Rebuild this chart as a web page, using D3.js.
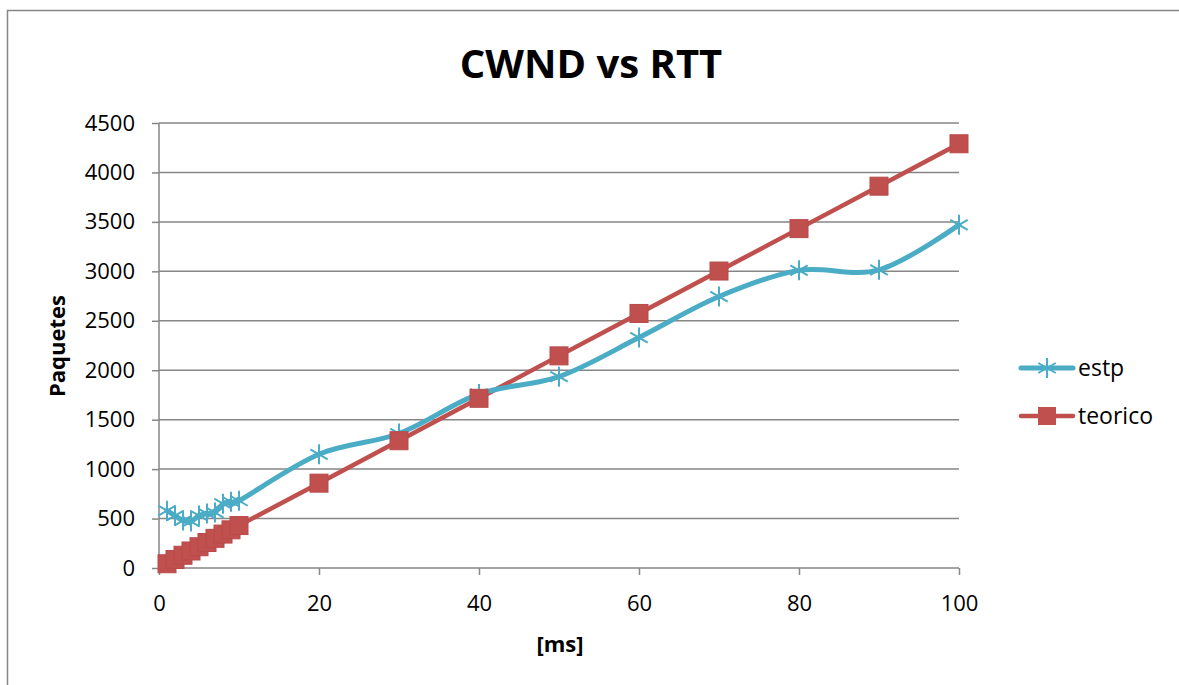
<!DOCTYPE html>
<html>
<head>
<meta charset="utf-8">
<script src="https://cdn.jsdelivr.net/npm/d3@7"></script>
<style>
  body { margin: 0; background: #fff; }
  text { font-family: "Open Sans", "Noto Sans", sans-serif; fill: #000; }
</style>
</head>
<body>
<svg width="1179" height="685"></svg>
<script>
// data
var rtt = [1, 2, 3, 4, 5, 6, 7, 8, 9, 10, 20, 30, 40, 50, 60, 70, 80, 90, 100];
var estp = [580, 530, 480, 470, 530, 550, 560, 650, 670, 680, 1150, 1360, 1760, 1935, 2330, 2745, 3010, 3015, 3470];
var teorico = [43, 86, 129, 172, 215, 258, 300, 343, 386, 429, 858, 1287, 1716, 2145, 2574, 3003, 3432, 3861, 4290];
var xTicks = [0, 20, 40, 60, 80, 100];
var yTicks = [0, 500, 1000, 1500, 2000, 2500, 3000, 3500, 4000, 4500];

var blue = "#4BACC6", red = "#C0504D", grey = "#868686";

var svg = d3.select("svg");

// outer chart border (right and bottom edges run off the page)
svg.append("rect")
  .attr("x", 7.5).attr("y", 10.5)
  .attr("width", 1200).attr("height", 700)
  .attr("fill", "none").attr("stroke", grey).attr("stroke-width", 1.5);

var x = d3.scaleLinear().domain([0, 100]).range([159, 959]);
var y = d3.scaleLinear().domain([0, 4500]).range([568, 123]);

// gridlines
svg.append("g").selectAll("line").data(yTicks.slice(1)).enter().append("line")
  .attr("x1", 159).attr("x2", 959)
  .attr("y1", function (d) { return y(d); }).attr("y2", function (d) { return y(d); })
  .attr("stroke", grey).attr("stroke-width", 1.5);

// axes
var yAxis = svg.append("g").attr("transform", "translate(159,0)")
  .call(d3.axisLeft(y).tickValues(yTicks).tickSize(7).tickPadding(17).tickFormat(d3.format("d")));
var xAxis = svg.append("g").attr("transform", "translate(0,568)")
  .call(d3.axisBottom(x).tickValues(xTicks).tickSize(7).tickPadding(20));

[xAxis, yAxis].forEach(function (a) {
  a.selectAll("path, line").attr("stroke", grey).attr("stroke-width", 1.5);
  a.selectAll("text").style("font-size", "22px");
});
xAxis.select(".domain").attr("d", "M159,0H959");
yAxis.select(".domain").attr("d", "M0,123V568");

// title and axis labels
svg.append("text").attr("x", 591).attr("y", 78).attr("text-anchor", "middle")
  .style("font-size", "40px").style("font-weight", "bold").text("CWND vs RTT");
svg.append("text").attr("x", 560).attr("y", 652).attr("text-anchor", "middle")
  .style("font-size", "22px").style("font-weight", "bold").text("[ms]");
svg.append("text").attr("transform", "translate(65,346) rotate(-90)").attr("text-anchor", "middle")
  .style("font-size", "22px").style("font-weight", "bold").text("Paquetes");

// teorico: straight line + squares
var redLine = d3.line()
  .x(function (d, i) { return x(rtt[i]); })
  .y(function (d) { return y(d); });
svg.append("path").datum(teorico).attr("d", redLine)
  .attr("fill", "none").attr("stroke", red).attr("stroke-width", 4.5);

// estp: smoothed line + stars
var blueLine = d3.line()
  .x(function (d, i) { return x(rtt[i]); })
  .y(function (d) { return y(d); })
  .curve(d3.curveCardinal.tension(0));
svg.append("path").datum(estp).attr("d", blueLine)
  .attr("fill", "none").attr("stroke", blue).attr("stroke-width", 5)
  .attr("stroke-linecap", "round");

var starPath = function (cx, cy, r) {
  var dx = r * 0.87, dy = r * 0.5;
  return "M" + cx + "," + (cy - r) + "V" + (cy + r) +
    "M" + (cx - dx) + "," + (cy - dy) + "L" + (cx + dx) + "," + (cy + dy) +
    "M" + (cx - dx) + "," + (cy + dy) + "L" + (cx + dx) + "," + (cy - dy);
};

svg.append("g").selectAll("path").data(estp).enter().append("path")
  .attr("d", function (d, i) { return starPath(x(rtt[i]), y(d), 10); })
  .attr("stroke", blue).attr("stroke-width", 2).attr("fill", "none");

svg.append("g").selectAll("rect").data(teorico).enter().append("rect")
  .attr("x", function (d, i) { return x(rtt[i]) - 9; })
  .attr("y", function (d) { return y(d) - 9; })
  .attr("width", 18).attr("height", 18)
  .attr("fill", red).attr("stroke", "#B9494A").attr("stroke-width", 1);

// legend
var legend = svg.append("g");
legend.append("line").attr("x1", 1021).attr("x2", 1073).attr("y1", 368).attr("y2", 368)
  .attr("stroke", blue).attr("stroke-width", 5).attr("stroke-linecap", "round");
legend.append("path").attr("d", starPath(1047, 368, 10))
  .attr("stroke", blue).attr("stroke-width", 2).attr("fill", "none");
legend.append("text").attr("x", 1078).attr("y", 376).style("font-size", "23px").text("estp");

legend.append("line").attr("x1", 1021).attr("x2", 1073).attr("y1", 416).attr("y2", 416)
  .attr("stroke", red).attr("stroke-width", 4.5).attr("stroke-linecap", "round");
legend.append("rect").attr("x", 1038).attr("y", 407).attr("width", 18).attr("height", 18)
  .attr("fill", red);
legend.append("text").attr("x", 1078).attr("y", 424).style("font-size", "23px").text("teorico");
</script>
</body>
</html>
